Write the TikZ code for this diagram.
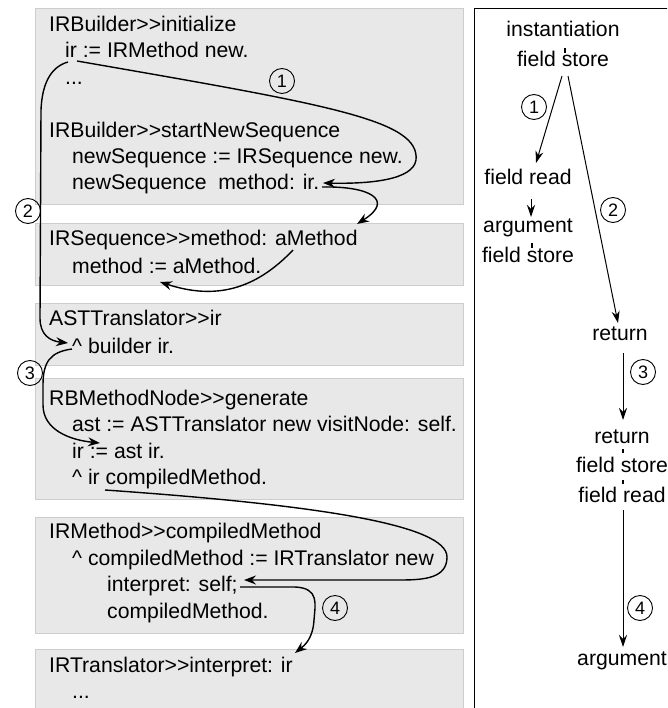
\documentclass[tikz,border=0pt]{standalone}
\usepackage{fontspec}
\setmainfont{Liberation Sans}
\usetikzlibrary{arrows.meta}
\definecolor{boxgray}{HTML}{E8E8E8}
\definecolor{boxedge}{HTML}{CDCDCD}
\newcommand{\dgt}{>\kern0pt>}
\begin{document}
\begin{tikzpicture}[x=1pt,y=-1pt,
  code/.style={anchor=base west, inner sep=0pt, font=\fontsize{21.2}{24}\selectfont},
  rtext/.style={anchor=base, inner sep=0pt, font=\fontsize{21.2}{24}\selectfont},
  codebox/.style={fill=boxgray, draw=boxedge, line width=0.9pt},
  num/.style={circle, draw, line width=0.9pt, inner sep=0pt, minimum size=25pt, font=\fontsize{18}{20}\selectfont},
  flow/.style={line width=1.4pt, -{Stealth[length=12pt,width=9pt,inset=4pt]}},
  flowr/.style={line width=1pt, -{Stealth[length=12pt,width=8pt,inset=4pt]}},
  tk/.style={line width=1.4pt}
]
\useasboundingbox (0,0) rectangle (667,708);
\clip (0,0) rectangle (667,708);

% code boxes
\path[codebox] (35,8) rectangle (463,204);
\path[codebox] (35,223) rectangle (463,285);
\path[codebox] (35,303) rectangle (463,365);
\path[codebox] (35,378) rectangle (463,499);
\path[codebox] (35,517) rectangle (463,633);
\path[codebox] (35,649) rectangle (463,720);

% right panel frame
\draw[line width=1pt] (474,720) -- (474,9) -- (700,9);

% code text
\node[code] (c1) at (49,32) {IRBuilder\dgt initialize};
\node[code] (c2) at (65,58) {ir := IRMethod new.};
\node[code] (c3) at (65,85) {...};
\node[code] (c4) at (49,138) {IRBuilder\dgt startNewSequence};
\node[code] (c5) at (72,164) {newSequence := IRSequence new.};
\node[code] (c6) at (72,190) {newSequence\ \ method: ir.};
\node[code] (c7) at (49,245) {IRSequence\dgt method: aMethod};
\node[code] (c8) at (72,273) {method := aMethod.};
\node[code] (c9) at (49,325) {ASTTranslator\dgt ir};
\node[code] (c10) at (72,353) {\textasciicircum\ builder ir.};
\node[code] (c11) at (49,405) {RBMethodNode\dgt generate};
\node[code] (c12) at (72,431) {ast := ASTTranslator new visitNode: self.};
\node[code] (c13) at (72,458) {ir := ast ir.};
\node[code] (c14) at (72,484) {\textasciicircum\ ir compiledMethod.};
\node[code] (c15) at (49,538) {IRMethod\dgt compiledMethod};
\node[code] (c16) at (72,565) {\textasciicircum\ compiledMethod := IRTranslator new};
\node[code] (c17) at (107,591) {interpret: self;};
\node[code] (c18) at (107,618) {compiledMethod.};
\node[code] (c19) at (49,672) {IRTranslator\dgt interpret: ir};
\node[code] (c20) at (72,698) {...};

% anchor points of the code arrows
\coordinate (irdef) at (77,61);
\coordinate (irdef2) at (68,62);
\coordinate (irarg) at (323,183);
\coordinate (irarg2) at (322,187);
\coordinate (meth) at (293,250);
\coordinate (methin) at (357,224);
\coordinate (mstore) at (160,282);
\coordinate (bld) at (68,343);
\coordinate (bld2) at (72,349);
\coordinate (irgen) at (100,443);
\coordinate (cm) at (105,490);
\coordinate (interp) at (244,580);
\coordinate (interp2) at (240,587);
\coordinate (interin) at (295,653);

% code arrows
\draw[flow] (irdef) .. controls (330,105) and (420,120) .. (416,160)
  .. controls (413,180) and (370,184) .. (irarg);
\draw[flow] (irarg2) .. controls (370,186) and (395,200) .. (methin);
\draw[flow] (meth) .. controls (255,290) and (215,300) .. (mstore);
\draw[flow] (irdef2) .. controls (50,67) and (42,85) .. (41,110) -- (40,318)
  .. controls (40,335) and (50,341) .. (bld);
\draw[flow] (bld2) .. controls (50,352) and (43,362) .. (43,385) -- (43,405)
  .. controls (43,430) and (70,440) .. (irgen);
\draw[flow] (cm) .. controls (320,505) and (447,525) .. (447,557)
  .. controls (447,578) and (425,580) .. (400,580) -- (interp);
\draw[flow] (interp2) -- (295,587) .. controls (320,588) and (315,605) .. (314,620)
  .. controls (313,638) and (305,645) .. (interin);

\node[num] (n1) at (282,81) {1};
\node[num] (n2) at (28,211) {2};
\node[num] (n3) at (30,373) {3};
\node[num] (n4) at (335,608) {4};

% right panel
\node[rtext] (inst) at (563,37) {instantiation};
\node[rtext] (fs1) at (563,67) {field store};
\node[rtext] (fr1) at (528,185) {field read};
\node[rtext] (arg1) at (528,233) {argument};
\node[rtext] (fs2) at (528,262) {field store};
\node[rtext] (ret1) at (620,340) {return};
\node[rtext] (ret2) at (622,443) {return};
\node[rtext] (fs3) at (622,472) {field store};
\node[rtext] (fr2) at (622,502) {field read};
\node[rtext] (arg2) at (622,665) {argument};

\draw[tk] (inst.base) ++(2,11) -- ++(0,5);
\draw[tk] (arg1.base) ++(4,10) -- ++(0,5);
\draw[tk] (ret2.base) ++(1,6) -- ++(0,4);
\draw[tk] (fs3.base) ++(1,8) -- ++(0,4);

\draw[flowr] ([shift={(-1,9)}]fs1.base) -- ([shift={(8,-22)}]fr1.base);
\draw[flowr] ([shift={(5,9)}]fs1.base) -- ([shift={(-2,-17)}]ret1.base);
\draw[flowr] ([shift={(3,14)}]fr1.base) -- ([shift={(3,-16)}]arg1.base);
\draw[flowr] ([shift={(3,13)}]ret1.base) -- ([shift={(1,-23)}]ret2.base);
\draw[flowr] ([shift={(1,8)}]fr2.base) -- ([shift={(1,-18)}]arg2.base);

\node[num] (m1) at (534,107) {1};
\node[num] (m2) at (613,210) {2};
\node[num] (m3) at (643,372) {3};
\node[num] (m4) at (640,608) {4};
\end{tikzpicture}
\end{document}
